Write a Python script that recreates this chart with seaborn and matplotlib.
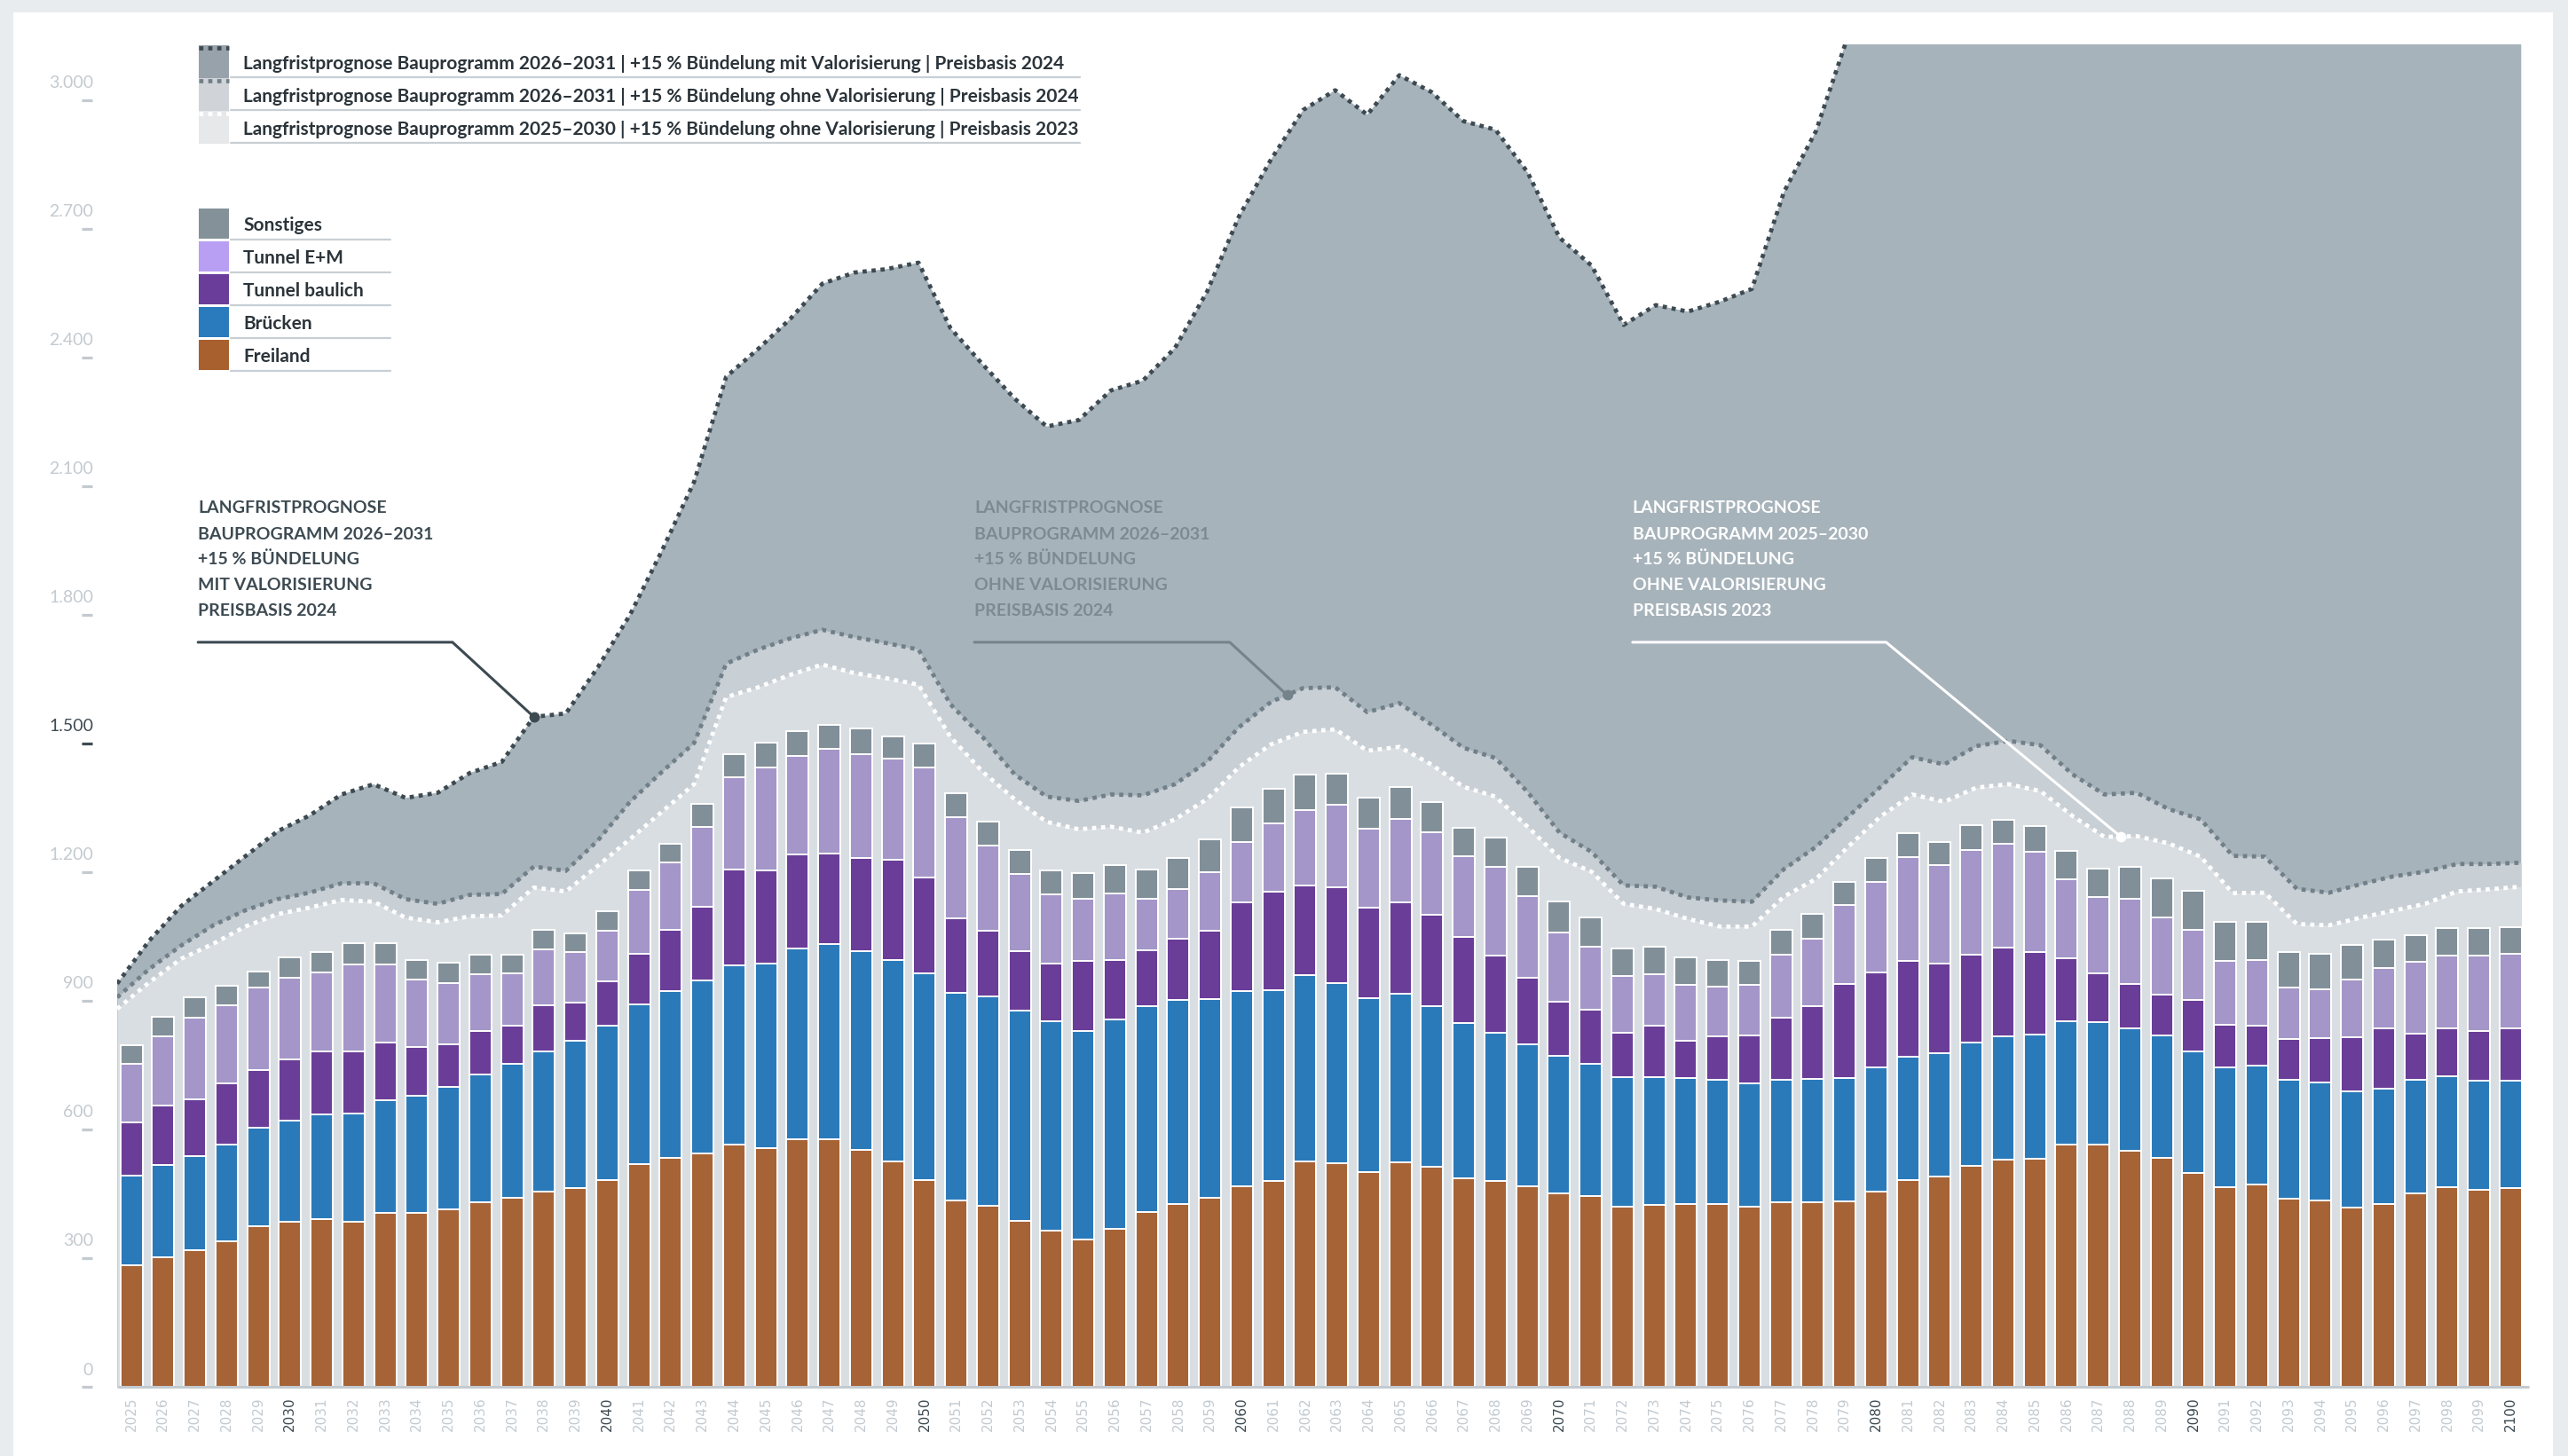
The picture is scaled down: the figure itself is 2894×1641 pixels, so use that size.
import numpy as np
import matplotlib
matplotlib.use("Agg")
import matplotlib.pyplot as plt
import matplotlib.transforms as mtransforms
from matplotlib.patches import Rectangle
from matplotlib.lines import Line2D
import seaborn as sns

# ---------------- data ----------------
years = list(range(2025, 2101))

freiland = [283, 302, 318, 340, 375, 385, 392, 385, 405, 405, 413, 430, 441, 455, 463, 483,
            519, 534, 545, 565, 556, 578, 578, 553, 526, 483, 434, 423, 386, 364, 343, 369,
            407, 427, 441, 467, 480, 526, 521, 500, 524, 513, 486, 479, 467, 451, 445, 420,
            424, 427, 426, 419, 430, 431, 433, 456, 483, 491, 515, 529, 531, 564, 564, 550,
            534, 499, 465, 471, 438, 434, 417, 427, 451, 465, 460, 464]
bruecken = [209, 215, 219, 225, 229, 236, 243, 253, 263, 274, 286, 298, 312, 328, 344, 359,
            372, 388, 403, 418, 431, 443, 455, 462, 470, 480, 484, 488, 491, 489, 487, 487,
            481, 474, 463, 456, 444, 433, 420, 407, 393, 374, 362, 347, 332, 320, 308, 302,
            297, 293, 290, 288, 286, 286, 287, 288, 286, 287, 288, 288, 291, 288, 286, 286,
            285, 284, 280, 278, 277, 275, 271, 268, 264, 259, 254, 249]
tunnel_baulich = [125, 139, 133, 143, 135, 143, 146, 144, 134, 114, 100, 102, 88, 107, 88, 103,
                  118, 143, 172, 223, 216, 220, 211, 218, 233, 224, 175, 152, 138, 134, 163, 139,
                  129, 144, 160, 206, 231, 210, 223, 210, 212, 213, 200, 179, 155, 127, 127, 104,
                  120, 87, 101, 113, 144, 171, 219, 222, 223, 208, 205, 207, 191, 147, 115, 104,
                  95, 119, 100, 92, 95, 104, 127, 140, 109, 112, 115, 123]
tunnel_em = [135, 162, 190, 182, 191, 189, 186, 203, 183, 156, 143, 132, 122, 130, 118, 118,
             149, 157, 185, 215, 242, 230, 244, 241, 235, 258, 236, 199, 180, 161, 145, 155,
             121, 115, 136, 142, 159, 176, 193, 185, 194, 192, 190, 207, 189, 161, 146, 131,
             121, 130, 117, 118, 148, 157, 184, 212, 243, 230, 244, 242, 235, 185, 176, 197,
             180, 163, 147, 154, 120, 113, 134, 142, 167, 169, 177, 173]
sonstiges = [45, 45, 48, 46, 39, 48, 46, 49, 49, 46, 46, 45, 45, 46, 44, 45,
             45, 45, 55, 55, 56, 58, 56, 60, 53, 55, 56, 56, 56, 57, 60, 67,
             69, 73, 77, 80, 80, 82, 73, 72, 76, 71, 66, 68, 70, 72, 69, 64,
             64, 64, 61, 56, 57, 57, 54, 54, 55, 55, 58, 56, 60, 66, 68, 76,
             92, 92, 91, 89, 84, 84, 81, 65, 62, 65, 64, 63]

# Langfristprognose Bauprogramm 2026-2031, mit Valorisierung, Preisbasis 2024
prog_mit_val_2024 = [940, 1040, 1121, 1179, 1237, 1295, 1332, 1381, 1405, 1373, 1385, 1431, 1457, 1562, 1570, 1678,
                     1800, 1950, 2110, 2355, 2420, 2490, 2572, 2598, 2606, 2621, 2468, 2384, 2304, 2239, 2254, 2323,
                     2346, 2422, 2553, 2729, 2862, 2977, 3023, 2966, 3058, 3019, 2951, 2931, 2832, 2679, 2614, 2476,
                     2522, 2507, 2530, 2560, 2786, 2928, 3150, 3260, 3330, 3390, 3420, 3380, 3350, 3320, 3300, 3290,
                     3280, 3270, 3260, 3250, 3250, 3250, 3260, 3260, 3270, 3270, 3280, 3280]
# Langfristprognose Bauprogramm 2026-2031, ohne Valorisierung, Preisbasis 2024
prog_ohne_val_2024 = [908, 974, 1029, 1076, 1111, 1137, 1152, 1174, 1174, 1137, 1126, 1147, 1149, 1213, 1203, 1274,
                      1364, 1434, 1501, 1686, 1719, 1745, 1765, 1748, 1734, 1719, 1591, 1515, 1428, 1376, 1366, 1381,
                      1379, 1405, 1457, 1538, 1597, 1629, 1631, 1573, 1594, 1544, 1490, 1466, 1387, 1292, 1247, 1169,
                      1166, 1141, 1134, 1131, 1207, 1259, 1329, 1398, 1468, 1451, 1494, 1506, 1496, 1428, 1381, 1385,
                      1347, 1323, 1238, 1236, 1161, 1152, 1172, 1190, 1201, 1219, 1219, 1222]
# Langfristprognose Bauprogramm 2025-2030, ohne Valorisierung, Preisbasis 2023
prog_ohne_val_2023 = [881, 943, 998, 1033, 1073, 1102, 1117, 1135, 1131, 1094, 1083, 1097, 1099, 1164, 1155, 1215,
                      1277, 1341, 1405, 1608, 1631, 1660, 1684, 1664, 1652, 1637, 1515, 1434, 1370, 1317, 1300, 1306,
                      1292, 1323, 1370, 1445, 1498, 1527, 1533, 1483, 1492, 1451, 1399, 1376, 1306, 1233, 1201, 1126,
                      1114, 1091, 1073, 1073, 1143, 1184, 1259, 1329, 1381, 1364, 1397, 1405, 1389, 1331, 1282, 1284,
                      1267, 1236, 1151, 1152, 1079, 1076, 1094, 1110, 1126, 1155, 1160, 1166]

y_ticks = [0, 300, 600, 900, 1200, 1500, 1800, 2100, 2400, 2700, 3000]
y_tick_labels = ["0", "300", "600", "900", "1.200", "1.500", "1.800", "2.100", "2.400", "2.700", "3.000"]
highlight_tick = 1500

category_names = ["Freiland", "Brücken", "Tunnel baulich", "Tunnel E+M", "Sonstiges"]
category_values = [freiland, bruecken, tunnel_baulich, tunnel_em, sonstiges]
bar_colors = ["#a66336", "#2a7aba", "#6a3d98", "#a496c8", "#818f98"]
legend_colors = {"Sonstiges": "#849199", "Tunnel E+M": "#b99ff3", "Tunnel baulich": "#6a3d9a",
                 "Brücken": "#2a7bbd", "Freiland": "#a8602f"}

series_labels = [
    "Langfristprognose Bauprogramm 2026–2031 | +15 % Bündelung mit Valorisierung | Preisbasis 2024",
    "Langfristprognose Bauprogramm 2026–2031 | +15 % Bündelung ohne Valorisierung | Preisbasis 2024",
    "Langfristprognose Bauprogramm 2025–2030 | +15 % Bündelung ohne Valorisierung | Preisbasis 2023",
]
annotation_texts = [
    ["LANGFRISTPROGNOSE", "BAUPROGRAMM 2026–2031", "+15 % BÜNDELUNG", "MIT VALORISIERUNG", "PREISBASIS 2024"],
    ["LANGFRISTPROGNOSE", "BAUPROGRAMM 2026–2031", "+15 % BÜNDELUNG", "OHNE VALORISIERUNG", "PREISBASIS 2024"],
    ["LANGFRISTPROGNOSE", "BAUPROGRAMM 2025–2030", "+15 % BÜNDELUNG", "OHNE VALORISIERUNG", "PREISBASIS 2023"],
]

# ---------------- style ----------------
sns.set_theme(style="white")
plt.rcParams["font.family"] = ["Lato", "DejaVu Sans"]

W, H, DPI = 2894, 1641, 100
fig = plt.figure(figsize=(W / DPI, H / DPI), dpi=DPI, facecolor="#e8ecef")

def fx(px):
    return px / W

def fy(py):
    return 1 - py / H

# white panel
fig.add_artist(Rectangle((fx(15), 0), fx(2877) - fx(15), fy(14), transform=fig.transFigure,
                         facecolor="white", edgecolor="none", zorder=0))

ax = fig.add_axes([fx(132), fy(1563), fx(2842) - fx(132), fy(50) - fy(1563)])
ax.set_facecolor("none")
x_lo, x_hi = -0.45, 75.35
ax.set_xlim(x_lo, x_hi)
ax.set_ylim(0, 3130)

n = len(years)
area_x = np.linspace(x_lo, x_hi - 0.02, n)

fill_cols = ["#a7b3bb", "#c8cfd5", "#d9dee2"]
dot_cols = ["#3d4a52", "#717f88", "#ffffff"]
series = [prog_mit_val_2024, prog_ohne_val_2024, prog_ohne_val_2023]
dotted = (0, (1.0, 1.15))
for k, (vals, fc, dc) in enumerate(zip(series, fill_cols, dot_cols)):
    ax.fill_between(area_x, 0, vals, color=fc, linewidth=0, zorder=0.2 + 0.1 * k)
for k, (vals, fc, dc) in enumerate(zip(series, fill_cols, dot_cols)):
    ax.plot(area_x, vals, color=dc, lw=3.4, linestyle=dotted, dash_capstyle="butt", zorder=0.6 + 0.01 * k)

# stacked bars via seaborn (draw cumulative totals from top to bottom)
year_labels = [str(y) for y in years]
cum = np.cumsum(np.array(category_values, dtype=float), axis=0)
for idx in range(len(category_names) - 1, -1, -1):
    sns.barplot(x=year_labels, y=cum[idx], color=bar_colors[idx], saturation=1, width=0.7,
                edgecolor="white", linewidth=1.4, errorbar=None, ax=ax, zorder=1)

ax.set_xlim(x_lo, x_hi)
ax.set_ylim(0, 3130)
ax.set_xlabel("")
ax.set_ylabel("")
for s in ax.spines.values():
    s.set_visible(False)
ax.grid(False)

# baseline
ax.plot([0, 1.003], [0, 0], transform=mtransforms.blended_transform_factory(ax.transAxes, ax.transData),
        color="#c3cad0", lw=2.2, clip_on=False, zorder=4, solid_capstyle="butt")

# x tick labels
ax.set_xticks(range(n))
ax.set_xticklabels(year_labels, rotation=90, fontsize=11, family="DejaVu Sans")
ax.tick_params(axis="x", length=0, pad=8)
for lab, y in zip(ax.get_xticklabels(), years):
    lab.set_color("#3d4a52" if y % 10 == 0 else "#c3cad0")

# y ticks (dash + label above)
ax.set_yticks([])
trans = mtransforms.blended_transform_factory(ax.transAxes, ax.transData)
lab_trans = mtransforms.offset_copy(trans, fig=fig, x=0, y=19, units="dots")
for v, lab in zip(y_ticks, y_tick_labels):
    c = "#3d4a52" if v == highlight_tick else "#c3cad0"
    ax.plot([-0.0149, -0.0103], [v, v], transform=trans, clip_on=False, color=c, lw=2.3,
            solid_capstyle="butt", zorder=5)
    ax.text(-0.0099, v, lab, transform=lab_trans, ha="right", va="center", fontsize=14,
            color=c, fontweight="normal", clip_on=False)

# annotations
ann_cfg = [  # (series index, position along series, text x, knee x, line colour, text colour)
    (0, 13.0, 2.10, 10.12, "#3d4a52", "#3d4a52"),
    (1, 36.5, 26.57, 34.62, "#75838c", "#7d8a93"),
    (2, 62.5, 47.32, 55.31, "#ffffff", "#ffffff"),
]
lead_y = 1736
line_ys = [2050, 1988, 1930, 1870, 1810]
for (si, pos, tx, kx, lc, tc), texts in zip(ann_cfg, annotation_texts):
    dx = np.interp(pos, np.arange(n), area_x)
    dy = np.interp(pos, np.arange(n), series[si])
    ax.plot([tx, kx, dx], [lead_y, lead_y, dy], color=lc, lw=2.2, zorder=6, solid_joinstyle="miter")
    ax.plot([dx], [dy], "o", color=lc, markersize=7.5, zorder=7)
    for t, yy in zip(texts, line_ys):
        ax.text(tx, yy, t, color=tc, fontsize=14, fontweight="bold", ha="left", va="center", zorder=7)

# legend 1: series
sw_x0, sw_x1 = 224, 258
row_tops = [51, 88, 125]
sw_cols = ["#97a2aa", "#d0d4d8", "#e6e8ea"]
for top, sc, dc, lab in zip(row_tops, sw_cols, dot_cols, series_labels):
    fig.add_artist(Rectangle((fx(sw_x0), fy(top + 37)), fx(sw_x1) - fx(sw_x0), fy(top) - fy(top + 37),
                             transform=fig.transFigure, facecolor=sc, edgecolor="none", zorder=3))
    fig.add_artist(Line2D([fx(sw_x0), fx(sw_x1)], [fy(top + 3)] * 2, transform=fig.transFigure,
                          color=dc, lw=3.4, linestyle=dotted, dash_capstyle="butt", zorder=4))
    fig.text(fx(274), fy(top + 21), lab, fontsize=15, fontweight="bold", color="#2b343a",
             ha="left", va="center", zorder=4)
    fig.add_artist(Line2D([fx(260), fx(1217)], [fy(top + 36)] * 2, transform=fig.transFigure,
                          color="#c8cfd4", lw=1.6, zorder=3))

# legend 2: categories
cat_order = ["Sonstiges", "Tunnel E+M", "Tunnel baulich", "Brücken", "Freiland"]
for k, name in enumerate(cat_order):
    top = 235 + 37 * k
    fig.add_artist(Rectangle((fx(sw_x0), fy(top + 34)), fx(sw_x1) - fx(sw_x0), fy(top) - fy(top + 34),
                             transform=fig.transFigure, facecolor=legend_colors[name], edgecolor="none", zorder=3))
    fig.text(fx(274), fy(top + 19), name, fontsize=15, fontweight="bold", color="#2b343a",
             ha="left", va="center", zorder=4)
    fig.add_artist(Line2D([fx(260), fx(440)], [fy(top + 34.5)] * 2, transform=fig.transFigure,
                          color="#c8cfd4", lw=1.6, zorder=3))

fig.savefig("out.png", dpi=DPI, facecolor=fig.get_facecolor())
